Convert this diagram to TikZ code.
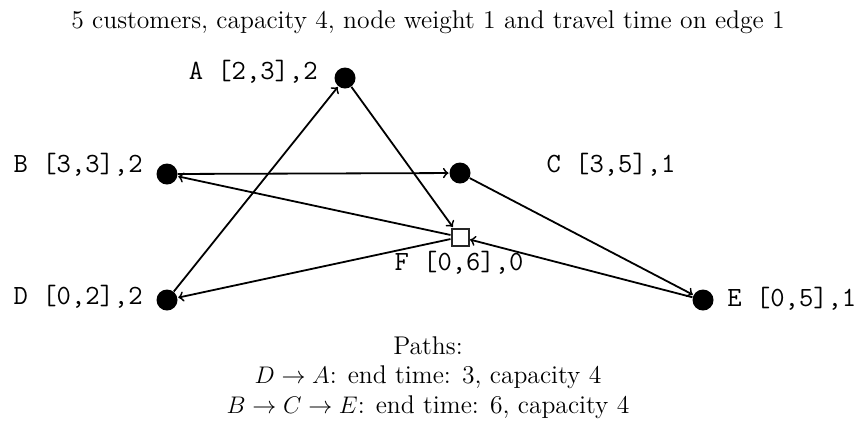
\documentclass[tikz,border=0pt]{standalone}
\begin{document}
\begin{tikzpicture}[x=0.5pt,y=-0.5pt,
  cust/.style={circle,fill=black,inner sep=0pt,minimum size=10.5pt},
  depot/.style={rectangle,draw=black!85,fill=white,line width=1pt,inner sep=0pt,minimum size=8.5pt},
  lbl/.style={font=\fontsize{13.9}{15}\selectfont\ttfamily,inner sep=0pt},
  txt/.style={font=\fontsize{12.8}{15}\selectfont,inner sep=0pt},
  edge/.style={->,line width=0.9pt,shorten >=0.3pt}]
\useasboundingbox (0,0) rectangle (855,425);
\node[txt] (title) at (428,22) {5 customers, capacity 4, node weight 1 and travel time on edge 1};
\node[cust] (A) at (345,78) {};
\node[cust] (B) at (167,174) {};
\node[cust] (C) at (460,173) {};
\node[cust] (D) at (167,300) {};
\node[cust] (E) at (703,300) {};
\node[depot] (F) at (460,237) {};
\node[lbl,anchor=east] (lA) at (318,72) {A [2,3],2};
\node[lbl,anchor=east] (lB) at (143,165) {B [3,3],2};
\node[lbl] (lC) at (611,165) {C [3,5],1};
\node[lbl,anchor=east] (lD) at (143,297) {D [0,2],2};
\node[lbl,anchor=west] (lE) at (727,299) {E [0,5],1};
\node[lbl] (lF) at (459,263) {F [0,6],0};
\draw[edge] (D) -- (A);
\draw[edge] (A) -- (F);
\draw[edge] (B) -- (C);
\draw[edge] (C) -- (E);
\draw[edge] (E) -- (F);
\draw[edge] (F) -- (B);
\draw[edge] (F) -- (D);
\node[txt] (p0) at (428,346) {Paths:};
\node[txt] (p1) at (428,377) {$D\rightarrow A$: end time: 3, capacity 4};
\node[txt] (p2) at (428,407) {$B\rightarrow C\rightarrow E$: end time: 6, capacity 4};
\end{tikzpicture}
\end{document}
